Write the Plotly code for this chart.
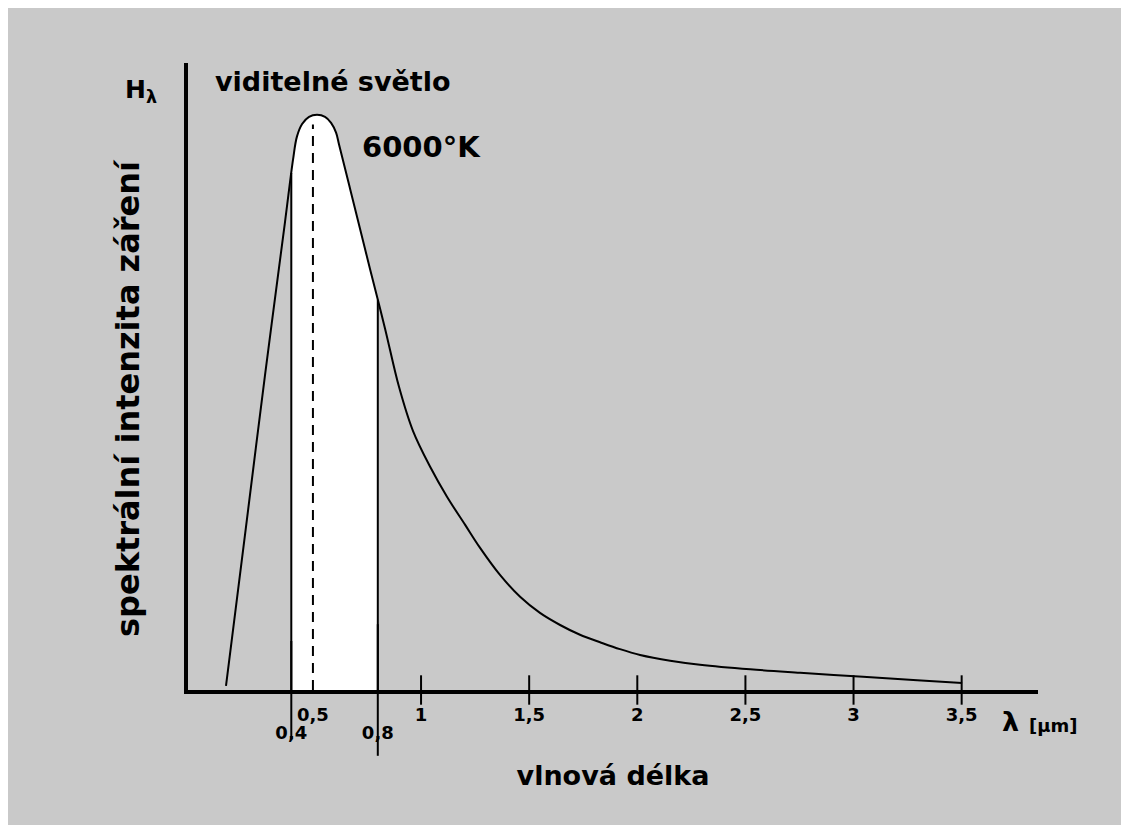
import numpy as np
import plotly.graph_objects as go

# ---- data (wavelength in micrometres, relative intensity) ----
wavelength_um = [0.098, 0.186, 0.278, 0.371, 0.408, 0.426, 0.450, 0.482, 0.519, 0.556,
                 0.584, 0.607, 0.621, 0.672, 0.764, 0.833, 0.898, 0.963, 1.042, 1.120,
                 1.204, 1.273, 1.365, 1.458, 1.550, 1.643, 1.735, 1.828, 1.920, 2.013,
                 2.152, 2.290, 2.522, 2.753, 3.044, 3.294, 3.502]
intensity = [0.7, 27.0, 54.6, 81.4, 92.2, 96.2, 98.4, 99.65, 100.0, 99.65,
             98.6, 96.9, 94.8, 87.1, 73.2, 62.9, 52.7, 45.0, 38.8, 33.6,
             28.7, 24.7, 20.0, 16.2, 13.4, 11.3, 9.6, 8.3, 7.1, 6.1,
             5.1, 4.4, 3.6, 3.0, 2.3, 1.7, 1.2]

tick_values = [0.4, 0.5, 0.8, 1, 1.5, 2, 2.5, 3, 3.5]
tick_labels = ["0,4", "0,5", "0,8", "1", "1,5", "2", "2,5", "3", "3,5"]
lowered_labels = [0.4, 0.8]
major_ticks = [1, 1.5, 2, 2.5, 3, 3.5]
visible_band = [0.4, 0.8]
peak_wavelength = 0.5

FONT = "DejaVu Sans"
GRAY = "#c9c9c9"

fig = go.Figure()

# white visible-light band under the curve
lo, hi = visible_band
fx = [lo] + [w for w in wavelength_um if lo < w < hi] + [hi]
fy = [float(v) for v in np.interp(fx, wavelength_um, intensity)]
fig.add_trace(go.Scatter(x=fx, y=fy, fill="tozeroy", fillcolor="white", mode="lines",
                         line=dict(width=0, shape="spline", smoothing=1.0),
                         hoverinfo="skip", showlegend=False))

# band edges (extending below the axis)
for w, sz in zip(visible_band, [70, 94]):
    h = float(np.interp(w, wavelength_um, intensity))
    fig.add_trace(go.Scatter(x=[w, w], y=[0, h], mode="lines",
                             line=dict(color="black", width=2), showlegend=False, hoverinfo="skip"))
    fig.add_trace(go.Scatter(x=[w], y=[0], mode="markers", cliponaxis=False, xaxis="x2",
                             marker=dict(symbol="line-ns", size=sz, color="black",
                                         line=dict(color="black", width=2)),
                             showlegend=False, hoverinfo="skip"))

# dashed line at the peak wavelength
peak_h = float(np.interp(peak_wavelength, wavelength_um, intensity))
fig.add_trace(go.Scatter(x=[peak_wavelength, peak_wavelength], y=[0, peak_h - 1.5], mode="lines",
                         line=dict(color="black", width=2, dash="10px,7px"),
                         showlegend=False, hoverinfo="skip"))

# Planck curve
fig.add_trace(go.Scatter(x=wavelength_um, y=intensity, mode="lines",
                         line=dict(color="black", width=2, shape="spline", smoothing=1.0),
                         showlegend=False, hoverinfo="skip"))

# tick marks crossing the axis
fig.add_trace(go.Scatter(x=major_ticks, y=[0] * len(major_ticks), mode="markers", cliponaxis=False,
                         marker=dict(symbol="line-ns", size=21, color="black",
                                     line=dict(color="black", width=2)),
                         showlegend=False, hoverinfo="skip"))

upper = [(v, t) for v, t in zip(tick_values, tick_labels) if v not in lowered_labels]
lower = [(v, t) for v, t in zip(tick_values, tick_labels) if v in lowered_labels]

# page has an 8px body margin; figure is sized/offset to fit the 1129x825 window
OFF = 8
W, H = 1121, 817
ml, mr, mt, mb = 180, 91, 55, 135
pw, ph = W - ml - mr, H - mt - mb
XR = [-0.0777, 3.853]


def px(x):
    return (x - OFF - ml) / pw


def py(y):
    return (H - mb - (y - OFF)) / ph


def note(text, x, y, size, weight="bold", **kw):
    return dict(text=text, x=px(x), y=py(y), xref="paper", yref="paper",
                xanchor="center", yanchor="middle", showarrow=False,
                font=dict(size=size, family=FONT, color="black", weight=weight), **kw)


tickfont = dict(size=18, family=FONT, color="black", weight="bold")

fig.update_layout(
    width=W, height=H,
    margin=dict(l=ml, r=mr, t=mt, b=mb),
    paper_bgcolor=GRAY, plot_bgcolor=GRAY,
    font=dict(family=FONT, color="black"),
    xaxis=dict(range=XR, showgrid=False, zeroline=False,
               showline=True, linewidth=4, linecolor="black", ticks="",
               tickvals=[v for v, _ in upper], ticktext=[t for _, t in upper],
               tickangle=0, ticklabelstandoff=5, tickfont=tickfont,
               title=dict(text="vlnová délka",
                          font=dict(size=27, family=FONT, weight="bold"), standoff=44),
               automargin=False, fixedrange=True),
    xaxis2=dict(range=XR, matches="x", overlaying="x", anchor="y", side="bottom",
                showgrid=False, zeroline=False, showline=False, ticks="",
                tickvals=[v for v, _ in lower], ticktext=[t for _, t in lower],
                tickangle=0, ticklabelstandoff=30, tickfont=tickfont,
                automargin=False, fixedrange=True),
    yaxis=dict(range=[0, 109], showgrid=False, zeroline=False, showline=True,
               linewidth=4, linecolor="black", ticks="", showticklabels=False,
               automargin=False, fixedrange=True),
    annotations=[
        note("H<sub>λ</sub>", 141, 91, 25),
        note("viditelné světlo", 333, 82, 27),
        note("6000°K", 421, 147, 29),
        note("spektrální intenzita záření", 128, 398, 32, textangle=-90),
        note("λ", 1010, 722, 27),
        note("[μm]", 1053, 725, 18),
    ],
)

fig.write_html("out.html")
